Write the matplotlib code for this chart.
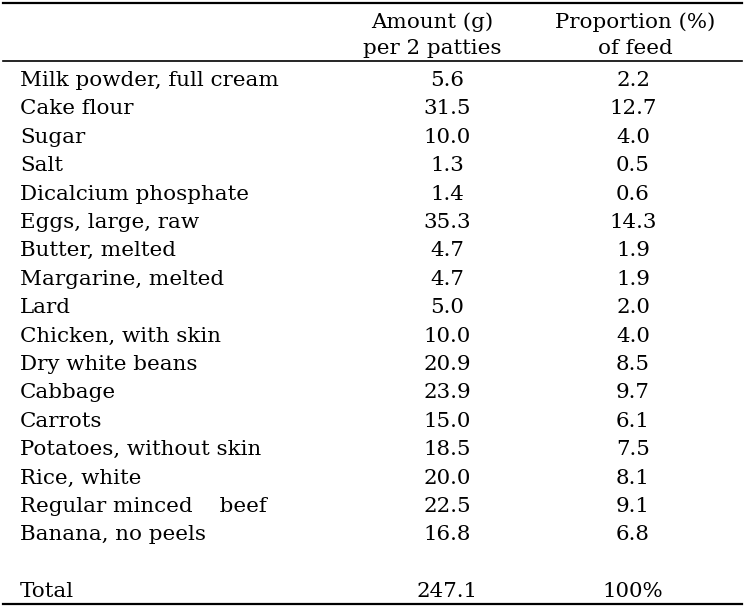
import matplotlib
matplotlib.use("Agg")
import matplotlib.pyplot as plt

# table content
ingredients = ["Milk powder, full cream", "Cake flour", "Sugar", "Salt",
               "Dicalcium phosphate", "Eggs, large, raw", "Butter, melted",
               "Margarine, melted", "Lard", "Chicken, with skin",
               "Dry white beans", "Cabbage", "Carrots",
               "Potatoes, without skin", "Rice, white",
               "Regular minced    beef", "Banana, no peels"]
amount = ["5.6", "31.5", "10.0", "1.3", "1.4", "35.3", "4.7", "4.7", "5.0",
          "10.0", "20.9", "23.9", "15.0", "18.5", "20.0", "22.5", "16.8"]
proportion = ["2.2", "12.7", "4.0", "0.5", "0.6", "14.3", "1.9", "1.9", "2.0",
              "4.0", "8.5", "9.7", "6.1", "7.5", "8.1", "9.1", "6.8"]
header_amount = ["Amount (g)", "per 2 patties"]
header_prop = ["Proportion (%)", "of feed"]
total_row = ["Total", "247.1", "100%"]

plt.rcParams['font.family'] = ['DejaVu Serif']
fs = 15.4

fig = plt.figure(figsize=(7.45, 6.08), dpi=100)
ax = fig.add_axes([0, 0, 1, 1])
ax.set_xlim(0, 745)
ax.set_ylim(608, 0)
ax.axis('off')

x_lab = 20
x_amt_h, x_amt = 432, 447
x_prop_h, x_prop = 635, 633
y0, dy = 86, 28.4

# rules
ax.plot([3, 742], [3, 3], color='black', lw=1.6)
ax.plot([3, 742], [61, 61], color='black', lw=1.2)
ax.plot([3, 742], [603.5, 603.5], color='black', lw=1.6)

for j, (ha_, hp_) in enumerate(zip(header_amount, header_prop)):
    yh = 28 + j * 26
    ax.text(x_amt_h, yh, ha_, ha='center', va='baseline', fontsize=fs)
    ax.text(x_prop_h, yh, hp_, ha='center', va='baseline', fontsize=fs)

for i, (name, a, p) in enumerate(zip(ingredients, amount, proportion)):
    y = y0 + i * dy
    ax.text(x_lab, y, name, ha='left', va='baseline', fontsize=fs)
    ax.text(x_amt, y, a, ha='center', va='baseline', fontsize=fs)
    ax.text(x_prop, y, p, ha='center', va='baseline', fontsize=fs)

yt = y0 + (len(ingredients) + 1) * dy
ax.text(x_lab, yt, total_row[0], ha='left', va='baseline', fontsize=fs)
ax.text(x_amt, yt, total_row[1], ha='center', va='baseline', fontsize=fs)
ax.text(x_prop, yt, total_row[2], ha='center', va='baseline', fontsize=fs)

fig.savefig("out.png", dpi=100)
